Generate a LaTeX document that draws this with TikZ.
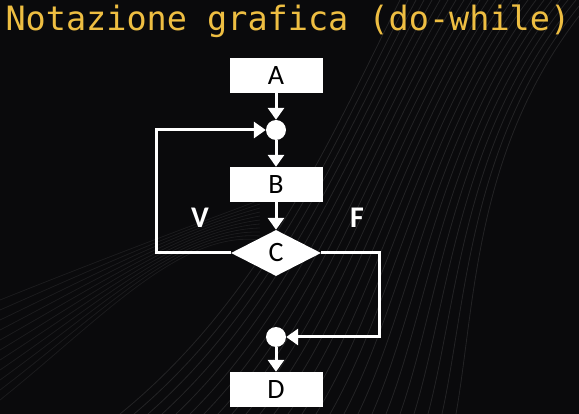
\documentclass[tikz,border=0pt]{standalone}
\usepackage{tikz}
\usepackage{xcolor}
\usepackage{fontspec}
\usetikzlibrary{shapes.geometric,arrows.meta}
\newfontfamily\titlefont{DejaVu Sans Mono}
\newfontfamily\boxfont{Carlito}
\definecolor{titlegold}{RGB}{238,190,66}
\definecolor{slidebg}{RGB}{10,10,12}

\begin{document}
\begin{tikzpicture}[x=1pt,y=-1pt]
  \fill[slidebg] (0,0) rectangle (579,414);
  \useasboundingbox (0,0) rectangle (579,414);
  \foreach \i in {0,...,24}
    \draw[white,opacity=0.10,line width=0.8pt] (120+\i*14,414) .. controls (260+\i*9,300) and (330+\i*6,140) .. (400+\i*8,0);
  \foreach \i in {0,...,10}
    \draw[white,opacity=0.07,line width=0.8pt] (0,300+\i*10) .. controls (100,260+\i*6) and (180,230) .. (260,200+\i*4);
  \tikzstyle{block}=[rectangle,fill=white,text=black,minimum width=93,minimum height=35,inner sep=0,font=\boxfont\fontsize{28}{28}\selectfont]
  \tikzstyle{test}=[diamond,fill=white,text=black,aspect=1.95,minimum width=90,minimum height=46,inner sep=0,font=\boxfont\fontsize{28}{28}\selectfont]
  \tikzstyle{joint}=[circle,fill=white,minimum size=20,inner sep=0]
  \tikzstyle{flow}=[white,line width=3pt,-{Triangle[width=16pt,length=12pt]}]
  \tikzstyle{lbl}=[text=white,font=\boxfont\bfseries\fontsize{30}{30}\selectfont]
  \node[anchor=west,text=titlegold,font=\titlefont\fontsize{33.5}{33.5}\selectfont] (title) at (2,21) {Notazione grafica (do-while)};
  \node[block] (A) at (276,75.5) {A};
  \node[joint] (j1) at (276,130) {};
  \node[block] (B) at (276,184.5) {B};
  \node[test] (C) at (276,253) {C};
  \node[joint] (j2) at (276,337) {};
  \node[block] (D) at (276,389.5) {D};
  \node[lbl] (V) at (200,218) {V};
  \node[lbl] (F) at (357,218) {F};
  \draw[flow] (A) -- (j1);
  \draw[flow] (j1) -- (B);
  \draw[flow] (B) -- (C);
  \draw[flow] (C.west) -- ++(-74,0) |- (j1);
  \draw[flow] (C.east) -- ++(58,0) |- (j2);
  \draw[flow] (j2) -- (D);
\end{tikzpicture}
\end{document}
